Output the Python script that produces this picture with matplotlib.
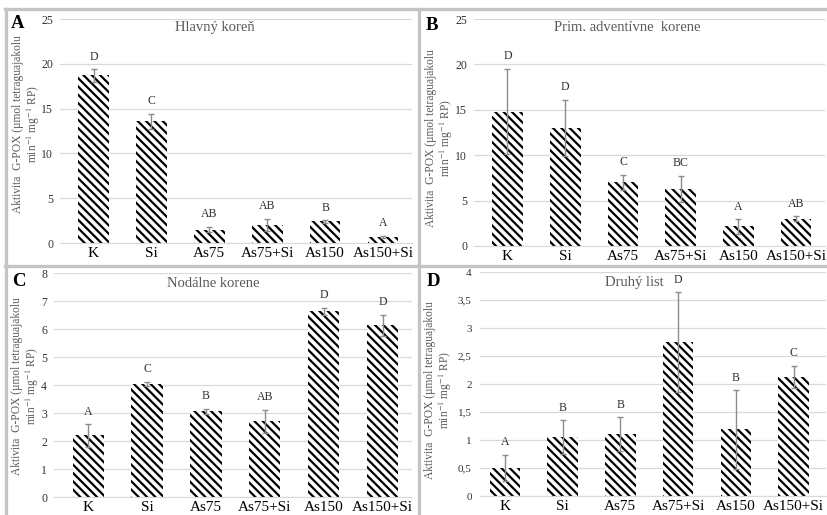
import matplotlib
matplotlib.use("Agg")
import matplotlib.pyplot as plt
from matplotlib.lines import Line2D

plt.rcParams["font.family"] = ["Liberation Serif", "DejaVu Serif"]
plt.rcParams["mathtext.fontset"] = "stix"
plt.rcParams["hatch.linewidth"] = 1.6

# ── Data ──
groups = ["K", "Si", "As75", "As75+Si", "As150", "As150+Si"]

main_root = [18.7, 13.6, 1.5, 2.0, 2.4, 0.7]
main_root_err = [0.7, 0.85, 0.3, 0.7, 0.15, 0.1]
main_root_letters = ["D", "C", "AB", "AB", "B", "A"]

adv_root = [14.8, 13.0, 7.0, 6.3, 2.15, 3.0]
adv_root_err = [4.7, 3.1, 0.85, 1.45, 0.8, 0.3]
adv_root_letters = ["D", "D", "C", "BC", "A", "AB"]

nodal_root = [2.2, 4.04, 3.06, 2.7, 6.63, 6.13]
nodal_root_err = [0.4, 0.07, 0.09, 0.42, 0.12, 0.38]
nodal_root_letters = ["A", "C", "B", "AB", "D", "D"]

leaf = [0.5, 1.05, 1.11, 2.75, 1.19, 2.125]
leaf_err = [0.24, 0.3, 0.3, 0.89, 0.7, 0.2]
leaf_letters = ["A", "B", "B", "D", "B", "C"]

leaf_ticks = [0, 0.5, 1, 1.5, 2, 2.5, 3, 3.5, 4]
leaf_ticklabels = ["0", "0,5", "1", "1,5", "2", "2,5", "3", "3,5", "4"]

W, H = 828, 515
fig = plt.figure(figsize=(W / 100, H / 100), dpi=100)


def px_axes(left, right, top, bottom):
    # convert pixel box to figure fraction
    return fig.add_axes([left / W, 1 - bottom / H, (right - left) / W, (bottom - top) / H])


ylabel = "Aktivita  G-POX (µmol tetraguajakolu\nmin$^{-1}$ mg$^{-1}$ RP)"


def panel(ax, vals, errs, letters, title, title_xy, ymax, step, tag, tag_xy, lab_xy,
          xlim=(-0.58, 5.5)):
    x = range(len(groups))
    ax.bar(x, vals, width=0.53, color="white", edgecolor="black", linewidth=0,
           hatch="\\\\\\\\", zorder=2)
    ax.errorbar(x, vals, yerr=errs, fmt="none", ecolor="#8c8c8c", elinewidth=1,
                capsize=2.5, capthick=1, zorder=3)
    for xi, v, e, lt in zip(x, vals, errs, letters):
        ax.annotate(lt, (xi, v + e), xytext=(0, 9), textcoords="offset points",
                    ha="center", va="center", fontsize=8.5, color="#303030")
    ax.set_xlim(*xlim)
    ax.set_ylim(0, ymax)
    ticks = [i * step for i in range(int(round(ymax / step)) + 1)]
    ax.set_yticks(ticks)
    ax.yaxis.grid(True, color="#d9d9d9", linewidth=0.9, zorder=0)
    ax.set_axisbelow(True)
    for s in ["top", "right", "left"]:
        ax.spines[s].set_visible(False)
    ax.spines["bottom"].set_color("#d9d9d9")
    ax.tick_params(axis="y", length=0, labelsize=8.5, labelcolor="#333333", pad=5)
    ax.tick_params(axis="x", length=0, labelsize=11, pad=3)
    ax.set_xticks(list(x))
    ax.set_xticklabels(groups)
    ax.text(title_xy[0], title_xy[1], title, transform=ax.transAxes, ha="center",
            va="center", fontsize=10.5, color="#595959")
    fig.text(tag_xy[0] / W, 1 - tag_xy[1] / H, tag, fontsize=13.5, fontweight="bold",
             ha="center", va="center")
    fig.text(lab_xy[0] / W, 1 - lab_xy[1] / H, ylabel, rotation=90, ha="center",
             va="center", fontsize=8.3, color="#595959", linespacing=1.05)


axA = px_axes(60, 412, 19, 243)
panel(axA, main_root, main_root_err, main_root_letters, "Hlavný koreň", (0.44, 0.964),
      25, 5, "A", (18, 24), (27, 124))

axB = px_axes(474, 825, 19, 246)
panel(axB, adv_root, adv_root_err, adv_root_letters, "Prim. adventívne  korene",
      (0.437, 0.964), 25, 5, "B", (432, 25), (440, 138))

axC = px_axes(54, 412, 273, 497)
panel(axC, nodal_root, nodal_root_err, nodal_root_letters, "Nodálne korene",
      (0.446, 0.951), 8, 1, "C", (19, 282), (26, 386))

axD = px_axes(480, 826, 272, 496)
panel(axD, leaf, leaf_err, leaf_letters, "Druhý list", (0.445, 0.951),
      4, 0.5, "D", (433, 281), (439, 390), xlim=(-0.43, 5.56))
axD.set_yticks(leaf_ticks)
axD.set_yticklabels(leaf_ticklabels)
axD.tick_params(axis="y", labelsize=8, pad=6)

# ── Gray panel borders ──
border = dict(color="#c4c4c4", linewidth=2.4, transform=fig.transFigure)
fig.add_artist(Line2D([5 / W, 1], [1 - 9 / H, 1 - 9 / H], **border))
fig.add_artist(Line2D([5 / W, 1], [1 - 266 / H, 1 - 266 / H], **border))
fig.add_artist(Line2D([6 / W, 6 / W], [0, 1 - 9 / H], **border))
fig.add_artist(Line2D([419 / W, 419 / W], [0, 1 - 9 / H], **border))

fig.savefig("out.png", dpi=100)
